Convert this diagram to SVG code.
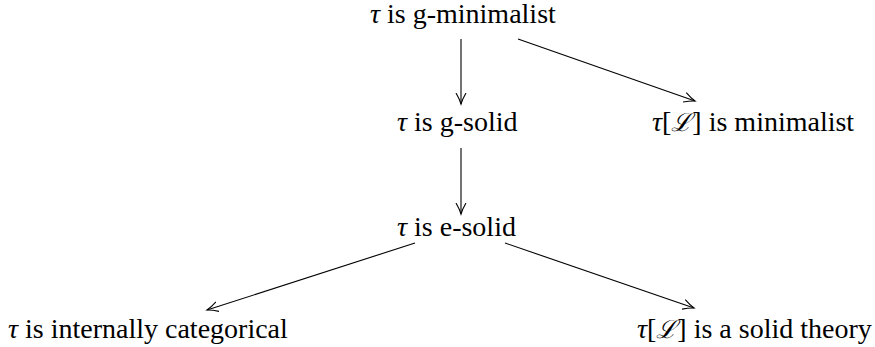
<svg xmlns="http://www.w3.org/2000/svg" width="875" height="347" viewBox="0 0 875 347">
<style>
.t{font-family:'Liberation Serif','Times New Roman',serif;font-size:28px;fill:#000}
.m{font-style:italic}
.s{font-family:'DejaVu Serif',serif;font-style:italic;font-size:25px}
line{stroke:#000;stroke-width:1.1;fill:none}
</style>
<defs>
<marker id="a" markerWidth="14" markerHeight="12" refX="11" refY="6" orient="auto" markerUnits="userSpaceOnUse">
<path d="M0,1 Q6,4.5 11,6 Q6,7.5 0,11" fill="none" stroke="#000" stroke-width="1.1"/>
</marker>
</defs>
<rect width="875" height="347" fill="#fff"/>
<g id="n1"><text x="370" y="23" class="t"><tspan class="m">τ</tspan> is g-minimalist</text></g>
<g id="n2"><text x="397" y="131" class="t"><tspan class="m">τ</tspan> is g-solid</text></g>
<g id="n3"><text x="652" y="131" class="t"><tspan class="m">τ</tspan>[<tspan class="s">ℒ</tspan>] is minimalist</text></g>
<g id="n4"><text x="397" y="236" class="t"><tspan class="m">τ</tspan> is e-solid</text></g>
<g id="n5"><text x="8" y="338" class="t"><tspan class="m">τ</tspan> is internally categorical</text></g>
<g id="n6"><text x="637" y="338" class="t"><tspan class="m">τ</tspan>[<tspan class="s">ℒ</tspan>] is a solid theory</text></g>
<g id="edges">
<line x1="461" y1="39" x2="461" y2="104" marker-end="url(#a)"/>
<line x1="518" y1="39" x2="695" y2="101" marker-end="url(#a)"/>
<line x1="461" y1="148" x2="461" y2="214" marker-end="url(#a)"/>
<line x1="415" y1="243" x2="207" y2="310" marker-end="url(#a)"/>
<line x1="505" y1="243" x2="694" y2="308" marker-end="url(#a)"/>
</g>
</svg>
